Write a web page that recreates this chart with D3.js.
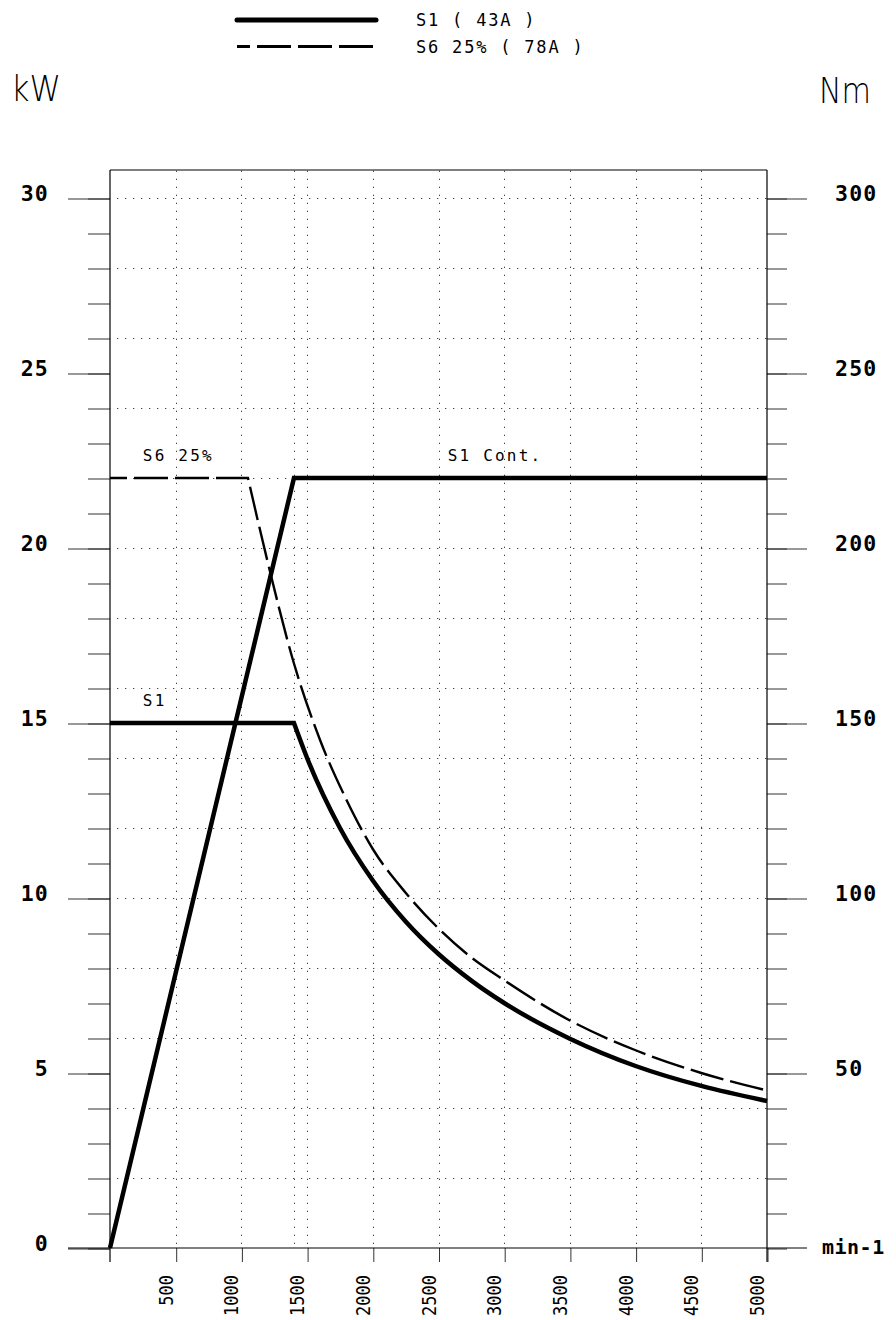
<!DOCTYPE html>
<html>
<head>
<meta charset="utf-8">
<script src="https://cdn.jsdelivr.net/npm/d3@7"></script>
<style>
  html, body { margin: 0; padding: 0; background: #fff; }
  svg { display: block; }
</style>
</head>
<body>
<svg id="chart" width="896" height="1320"></svg>
<script>
// ---------- data ----------
const rpmTickValues = [500, 1000, 1500, 2000, 2500, 3000, 3500, 4000, 4500, 5000];
const rpmGridValues = [500, 1000, 1400, 1500, 2000, 2500, 3000, 3500, 4000, 4500];
const kwLabelValues = [0, 5, 10, 15, 20, 25, 30];
const nmLabelValues = [50, 100, 150, 200, 250, 300];
const kwGridValues = [2, 4, 6, 8, 10, 12, 14, 16, 18, 20, 22, 24, 26, 28, 30];

// S1 power (kW) vs speed (min-1)
const s1PowerRpm = [0, 1400, 5000];
const s1PowerKw  = [0, 22, 22];

// S1 torque (Nm) vs speed
const s1TorqueRpm = [0, 1400, 1500, 1750, 2000, 2250, 2500, 2750, 3000, 3500, 4000, 4500, 5000];
const s1TorqueNm  = [150, 150, 140, 120, 105, 93.3, 84, 76.4, 70, 59.8, 52, 46.3, 42];

// S6 25% torque (Nm) vs speed
const s6TorqueRpm = [0, 1050, 1200, 1400, 1600, 1800, 2000, 2250, 2500, 2750, 3000, 3500, 4000, 4500, 5000];
const s6TorqueNm  = [220, 220, 196, 167, 145, 128, 114, 101.5, 91.3, 83, 76.5, 65, 56.5, 50, 45];

const legendLabels = ["S1 ( 43A )", "S6 25% ( 78A )"];
const curveLabels = [
  {text: "S6 25%", rpm: 250, kw: 22.5},
  {text: "S1 Cont.", rpm: 2570, kw: 22.5},
  {text: "S1", rpm: 250, kw: 15.5}
];

// ---------- layout ----------
const svg = d3.select("#chart");
const x = d3.scaleLinear().domain([0, 5000]).range([110, 767]);
const y = d3.scaleLinear().domain([0, 30]).range([1248, 198]);
const yNm = d3.scaleLinear().domain([0, 300]).range([1248, 198]);
const yTop = y(30.8);

const mono = "'DejaVu Sans Mono', monospace";

// grid
const grid = svg.append("g");
grid.selectAll("line.h").data(kwGridValues).join("line")
  .attr("x1", x(0)).attr("x2", x(5000))
  .attr("y1", d => y(d) + 0.5).attr("y2", d => y(d) + 0.5)
  .attr("stroke", "#444").attr("stroke-width", 1)
  .attr("stroke-dasharray", "1.3,6.7").attr("stroke-dashoffset", -7);
grid.selectAll("line.v").data(rpmGridValues).join("line")
  .attr("x1", d => Math.round(x(d)) + 0.5).attr("x2", d => Math.round(x(d)) + 0.5)
  .attr("y1", y(0)).attr("y2", yTop)
  .attr("stroke", "#444").attr("stroke-width", 1)
  .attr("stroke-dasharray", "1.3,6.7").attr("stroke-dashoffset", -4);

// left axis ticks
const leftMinor = d3.axisLeft(y).tickValues(d3.range(0, 31, 1)).tickSize(22).tickFormat("");
const gLM = svg.append("g").attr("transform", `translate(${x(0)},0.5)`).call(leftMinor);
const leftMajor = d3.axisLeft(y).tickValues(kwLabelValues).tickSize(42).tickPadding(19).tickFormat(d3.format("d"));
const gLJ = svg.append("g").attr("transform", `translate(${x(0)},0.5)`).call(leftMajor);

// right axis ticks
const rightMinor = d3.axisRight(yNm).tickValues(d3.range(0, 301, 10)).tickSize(20).tickFormat("");
const gRM = svg.append("g").attr("transform", `translate(${x(5000)},0.5)`).call(rightMinor);
const rightMajor = d3.axisRight(yNm).tickValues(nmLabelValues).tickSize(40).tickPadding(28).tickFormat(d3.format("d"));
const gRJ = svg.append("g").attr("transform", `translate(${x(5000)},0.5)`).call(rightMajor);

// bottom axis ticks
const bottom = d3.axisBottom(x).tickValues(rpmTickValues).tickSize(14).tickFormat(d3.format("d"));
const gB = svg.append("g").attr("transform", `translate(0.5,${y(0)})`).call(bottom);

[gLM, gLJ, gRM, gRJ, gB].forEach(g => {
  g.select(".domain").remove();
  g.selectAll(".tick line").attr("stroke", "#333").attr("stroke-width", 1);
});

[gLJ, gRJ].forEach(g => g.selectAll(".tick text")
  .attr("font-family", mono).attr("font-weight", "bold").attr("font-size", 21.5)
  .attr("letter-spacing", 1.2).attr("fill", "#000").attr("dy", "0.08em"));
gB.selectAll(".tick text")
  .attr("font-family", mono).attr("font-size", 17).attr("fill", "#000")
  .attr("text-anchor", "end").attr("dy", null).attr("y", null)
  .attr("transform", "translate(-4,27) rotate(-90) scale(1,1.1)");

// frame
const frame = svg.append("g").attr("stroke", "#000").attr("stroke-width", 1.2).attr("fill", "none");
frame.append("line").attr("x1", x(0)).attr("x2", x(0)).attr("y1", yTop).attr("y2", y(0) + 14);
frame.append("line").attr("x1", x(5000)).attr("x2", x(5000)).attr("y1", yTop).attr("y2", y(0) + 14);
frame.append("line").attr("x1", x(0)).attr("x2", x(5000)).attr("y1", yTop).attr("y2", yTop);
frame.append("line").attr("x1", x(0) - 42).attr("x2", x(5000) + 40).attr("y1", y(0)).attr("y2", y(0));

// curves
const lineKw = d3.line().x(d => x(d[0])).y(d => y(d[1]));
const lineNm = d3.line().x(d => x(d[0])).y(d => yNm(d[1])).curve(d3.curveMonotoneX);
const lineNmLin = d3.line().x(d => x(d[0])).y(d => yNm(d[1]));

const s6Pts = d3.zip(s6TorqueRpm, s6TorqueNm);
const s1TPts = d3.zip(s1TorqueRpm, s1TorqueNm);
const s1PPts = d3.zip(s1PowerRpm, s1PowerKw);

svg.append("path").attr("d", lineNmLin(s6Pts.slice(0, 2)) + lineNm(s6Pts.slice(1)).replace(/^M/, "L"))
  .attr("fill", "none").attr("stroke", "#000").attr("stroke-width", 2.4)
  .attr("stroke-dasharray", "34,7").attr("stroke-dashoffset", 17);

svg.append("path").attr("d", lineNmLin(s1TPts.slice(0, 2)) + lineNm(s1TPts.slice(1)).replace(/^M/, "L"))
  .attr("fill", "none").attr("stroke", "#000").attr("stroke-width", 4.5)
  .attr("stroke-linejoin", "miter");

svg.append("path").attr("d", lineKw(s1PPts))
  .attr("fill", "none").attr("stroke", "#000").attr("stroke-width", 4.5)
  .attr("stroke-linejoin", "miter");

// curve labels
svg.selectAll("text.cl").data(curveLabels).join("text")
  .attr("x", d => x(d.rpm)).attr("y", d => y(d.kw))
  .attr("font-family", mono).attr("font-size", 16).attr("letter-spacing", 2.2)
  .attr("fill", "#000").text(d => d.text);

// legend
svg.append("line").attr("x1", 237).attr("x2", 376).attr("y1", 20).attr("y2", 20)
  .attr("stroke", "#000").attr("stroke-width", 5).attr("stroke-linecap", "round");
svg.append("line").attr("x1", 237).attr("x2", 376).attr("y1", 46.5).attr("y2", 46.5)
  .attr("stroke", "#000").attr("stroke-width", 3)
  .attr("stroke-dasharray", "34,7").attr("stroke-dashoffset", 21);
svg.selectAll("text.lg").data(legendLabels).join("text")
  .attr("x", 416).attr("y", (d, i) => 26 + i * 26.5)
  .attr("font-family", mono).attr("font-size", 17).attr("letter-spacing", 1.8)
  .attr("fill", "#000").text(d => d);

// unit labels
svg.append("text").attr("x", 11).attr("y", 101).attr("font-family", "'DejaVu Sans', sans-serif")
  .attr("font-weight", 200).attr("font-size", 36).attr("textLength", 50).attr("lengthAdjust", "spacingAndGlyphs")
  .text("kW");
svg.append("text").attr("x", 819).attr("y", 103).attr("font-family", "'DejaVu Sans', sans-serif")
  .attr("font-weight", 200).attr("font-size", 36).attr("textLength", 52).attr("lengthAdjust", "spacingAndGlyphs")
  .text("Nm");
svg.append("text").attr("x", 822).attr("y", 1254).attr("font-family", mono)
  .attr("font-weight", "bold").attr("font-size", 20).attr("letter-spacing", 0.5)
  .text("min-1");
</script>
</body>
</html>
